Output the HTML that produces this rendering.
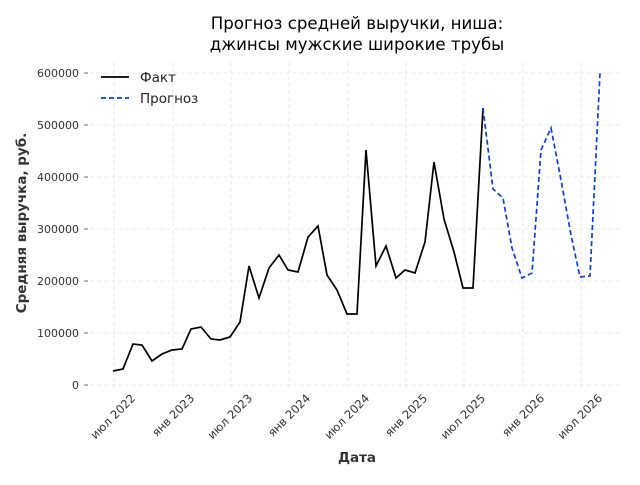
<!DOCTYPE html><html><head><meta charset="utf-8"><style>body{margin:0;background:#fff}</style></head><body>
<svg width="640" height="480" xmlns="http://www.w3.org/2000/svg" font-family="DejaVu Sans, sans-serif">
<rect width="640" height="480" fill="#fff"/>
<g stroke="#e2e2e2" stroke-width="0.8" stroke-dasharray="4,3">
<line x1="90" x2="622" y1="385" y2="385"/><line x1="90" x2="622" y1="333" y2="333"/><line x1="90" x2="622" y1="281" y2="281"/><line x1="90" x2="622" y1="229" y2="229"/><line x1="90" x2="622" y1="177" y2="177"/><line x1="90" x2="622" y1="125" y2="125"/><line x1="90" x2="622" y1="73" y2="73"/>
<line x1="114" x2="114" y1="62" y2="390"/><line x1="173" x2="173" y1="62" y2="390"/><line x1="231" x2="231" y1="62" y2="390"/><line x1="289" x2="289" y1="62" y2="390"/><line x1="348" x2="348" y1="62" y2="390"/><line x1="406" x2="406" y1="62" y2="390"/><line x1="464" x2="464" y1="62" y2="390"/><line x1="523" x2="523" y1="62" y2="390"/><line x1="581" x2="581" y1="62" y2="390"/>
</g>
<g stroke="#444" stroke-width="0.8">
<line x1="84" x2="88" y1="385" y2="385"/><line x1="84" x2="88" y1="333" y2="333"/><line x1="84" x2="88" y1="281" y2="281"/><line x1="84" x2="88" y1="229" y2="229"/><line x1="84" x2="88" y1="177" y2="177"/><line x1="84" x2="88" y1="125" y2="125"/><line x1="84" x2="88" y1="73" y2="73"/>
</g>
<g font-size="11" fill="#333" text-anchor="end">
<text x="79" y="389">0</text><text x="79" y="337">100000</text><text x="79" y="285">200000</text><text x="79" y="233">300000</text><text x="79" y="181">400000</text><text x="79" y="129">500000</text><text x="79" y="77">600000</text>
</g>
<g font-size="11.5" fill="#333" text-anchor="end">
<text transform="translate(136,399) rotate(-45)">июл 2022</text>
<text transform="translate(195,399) rotate(-45)">янв 2023</text>
<text transform="translate(253,399) rotate(-45)">июл 2023</text>
<text transform="translate(311,399) rotate(-45)">янв 2024</text>
<text transform="translate(370,399) rotate(-45)">июл 2024</text>
<text transform="translate(428,399) rotate(-45)">янв 2025</text>
<text transform="translate(486,399) rotate(-45)">июл 2025</text>
<text transform="translate(545,399) rotate(-45)">янв 2026</text>
<text transform="translate(603,399) rotate(-45)">июл 2026</text>
</g>
<text x="357" y="462" font-size="13.5" font-weight="bold" fill="#333" text-anchor="middle">Дата</text>
<text transform="translate(26,223) rotate(-90)" font-size="13.5" font-weight="bold" fill="#333" text-anchor="middle">Средняя выручка, руб.</text>
<text x="357" y="29" font-size="16.6" fill="#000" text-anchor="middle">Прогноз средней выручки, ниша:</text>
<text x="357" y="50" font-size="16.6" fill="#000" text-anchor="middle">джинсы мужские широкие трубы</text>
<polyline fill="none" stroke="#000" stroke-width="1.7" points="113,371 123,369 133,344 142,345 152,361 162,354 172,350 182,349 191,329 201,327 211,339 220,340 230,337 240,322 249,266 259,298 269,268 279,255 288,270 298,272 308,237 318,226 327,275 337,290 347,314 357,314 366,150 376,266 386,246 396,278 405,270 415,273 425,242 434,162 444,219 454,252 463,288 473,288 483,108"/>
<polyline fill="none" stroke="#0a3fe0" stroke-width="1.7" stroke-dasharray="5,3" points="483,108 493,189 503,198 512,248 522,278 532,273 541,150 551,128 561,180 571,235 580,277 590,276 600,73"/>
<line x1="101" x2="129" y1="77" y2="77" stroke="#000" stroke-width="1.7"/>
<text x="140" y="82" font-size="13.5" fill="#222">Факт</text>
<line x1="101" x2="129" y1="98" y2="98" stroke="#0a3fe0" stroke-width="1.7" stroke-dasharray="5,3"/>
<text x="140" y="103" font-size="13.5" fill="#222">Прогноз</text>
</svg></body></html>
